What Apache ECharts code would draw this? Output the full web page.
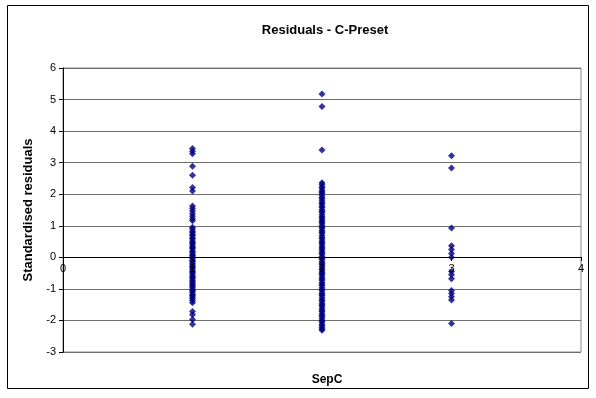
<!DOCTYPE html>
<html>
<head>
<meta charset="utf-8">
<script src="https://cdn.jsdelivr.net/npm/echarts@6/dist/echarts.min.js"></script>
<style>html,body{margin:0;padding:0;background:#fff;}#c{width:596px;height:398px;}</style>
</head>
<body>
<div id="c"></div>
<script>
const titleText = "Residuals - C-Preset";
const xName = "SepC";
const yName = "Standardised residuals";
const xTicks = [0, 1, 2, 3, 4];
const yTicks = [-3, -2, -1, 0, 1, 2, 3, 4, 5, 6];

const resid1 = [3.45, 3.36, 3.28, 2.89, 2.6, 2.21, 2.1, 1.63, 1.55, 1.47, 1.38, 1.3, 1.22, 1.16,
  0.95, 0.9, 0.83, 0.79, 0.72, 0.69, 0.62, 0.58, 0.51, 0.46, 0.42, 0.36, 0.31, 0.27, 0.2, 0.16, 0.1, 0.06, 0.01,
  -0.04, -0.1, -0.13, -0.19, -0.24, -0.29, -0.33, -0.38, -0.44, -0.47, -0.53, -0.59, -0.62, -0.67, -0.73, -0.77,
  -0.82, -0.88, -0.91, -0.96, -1.02, -1.06, -1.11, -1.17, -1.21, -1.26, -1.31, -1.37, -1.44,
  -1.72, -1.82, -1.97, -2.12];
const resid2 = [5.18, 4.78, 3.4,
  2.36, 2.31, 2.24, 2.19, 2.12, 2.07, 2.03, 1.96, 1.9, 1.86, 1.79, 1.73, 1.69, 1.62, 1.58, 1.51, 1.46, 1.42,
  1.35, 1.29, 1.25, 1.18, 1.13, 1.09, 1.02, 0.96, 0.92, 0.85, 0.8, 0.76, 0.69, 0.63, 0.59, 0.52, 0.47, 0.43,
  0.36, 0.3, 0.26, 0.19, 0.14, 0.1, 0.03, -0.03, -0.07, -0.14, -0.19, -0.23, -0.3, -0.36, -0.4, -0.47, -0.52,
  -0.56, -0.63, -0.69, -0.73, -0.8, -0.85, -0.89, -0.96, -1.02, -1.06, -1.13, -1.18, -1.22, -1.29, -1.35,
  -1.39, -1.46, -1.51, -1.55, -1.62, -1.68, -1.72, -1.79, -1.84, -1.88, -1.95, -2.01, -2.05, -2.12, -2.17,
  -2.22, -2.27, -2.31];
const resid3 = [3.22, 2.83, 0.93, 0.37, 0.25, 0.12, 0.0, -0.45, -0.55, -0.68, -1.05, -1.15, -1.25, -1.35, -2.1];

const groups = [[1, resid1], [2, resid2], [3, resid3]];
const points = [];
groups.forEach(g => g[1].forEach(v => points.push([g[0], v])));

const chart = echarts.init(document.getElementById('c'), null, {renderer: 'canvas'});
const font = 'Liberation Sans, Arial, sans-serif';
chart.setOption({
  animation: false,
  backgroundColor: '#fff',
  textStyle: {fontFamily: font},
  title: [
    {text: titleText, left: 320, top: 19, textAlign: 'center',
     textStyle: {fontFamily: font, fontSize: 13, fontWeight: 'bold', color: '#000'}},
    {text: xName, left: 322, top: 369, textAlign: 'center',
     textStyle: {fontFamily: font, fontSize: 12, fontWeight: 'bold', color: '#000'}}
  ],
  graphic: [
    {type: 'rect', shape: {x: 7.5, y: 5.5, width: 581, height: 383},
     style: {fill: null, stroke: '#000', lineWidth: 1}, silent: true, z: -1}
  ],
  grid: {left: 63, right: 15, top: 68, bottom: 46, show: true, borderColor: '#8a8a8a', borderWidth: 1},
  xAxis: {
    type: 'value', min: xTicks[0], max: xTicks[xTicks.length - 1], interval: 1,
    position: 'bottom', offset: -95, z: 5,
    axisLine: {onZero: false, lineStyle: {color: '#000', width: 1}},
    axisTick: {show: true, length: 4, inside: false, lineStyle: {color: '#000'}},
    axisLabel: {color: '#000', fontSize: 11, margin: 6, fontFamily: font},
    splitLine: {show: false}
  },
  yAxis: {
    type: 'value', min: yTicks[0], max: yTicks[yTicks.length - 1], interval: 1,
    name: yName, nameLocation: 'middle', nameGap: 21, nameRotate: 90,
    nameTextStyle: {fontFamily: font, fontSize: 13, fontWeight: 'bold', color: '#000'},
    axisLine: {show: true, onZero: false, lineStyle: {color: '#000', width: 1}},
    axisTick: {show: true, length: 4, lineStyle: {color: '#000'}},
    axisLabel: {color: '#000', fontSize: 11, margin: 7, fontFamily: font},
    splitLine: {show: true, lineStyle: {color: '#6e6e6e', width: 1}}
  },
  series: [{
    type: 'scatter', data: points, symbol: 'diamond', symbolSize: 7, z: 2,
    itemStyle: {color: '#000080'}
  }]
});
</script>
</body>
</html>
